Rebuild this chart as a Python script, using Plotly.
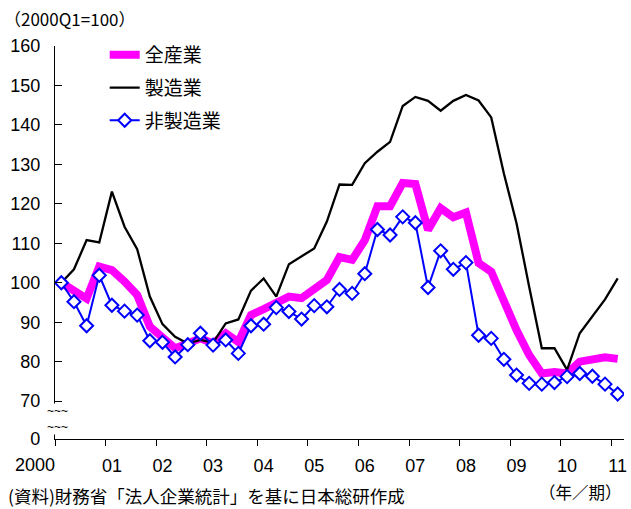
import plotly.graph_objects as go

# Quarterly 2000Q1 .. 2011Q1 (45 quarters), index 2000Q1 = 100
quarters = [f"{y}Q{q}" for y in range(2000, 2012) for q in range(1, 5)][:45]

all_industries = [100.0, 97.7, 96.0, 104.1, 103.2, 100.3, 96.9, 88.9, 86.3, 83.4, 84.6, 85.9,
                  84.6, 87.2, 85.0, 91.8, 93.3, 94.8, 96.5, 96.1, 98.6, 100.7, 106.5, 105.8,
                  110.8, 119.4, 119.4, 125.3, 125.0, 113.4, 118.9, 116.6, 117.8, 105.0, 102.8,
                  94.8, 88.0, 81.7, 77.0, 77.4, 77.0, 80.0, 80.8, 81.1, 80.7]
manufacturing = [100.0, 103.4, 110.8, 110.2, 123.1, 114.2, 108.5, 96.5, 89.5, 86.3, 84.6, 85.5,
                 84.8, 89.7, 90.7, 98.0, 101.1, 96.5, 104.7, 106.6, 108.7, 115.5, 124.9, 124.8,
                 130.3, 133.2, 135.7, 144.8, 147.1, 146.1, 143.6, 146.1, 147.6, 146.2, 141.9,
                 127.7, 115.1, 99.0, 83.4, 83.4, 77.9, 87.2, 91.4, 95.8, 101.1]
non_manufacturing = [100.0, 95.2, 89.1, 101.9, 94.3, 92.8, 91.8, 85.3, 84.9, 81.2, 84.3, 87.2,
                     84.2, 85.5, 82.1, 89.1, 89.5, 93.7, 92.7, 90.8, 94.2, 93.9, 98.3, 97.3,
                     102.3, 113.5, 112.1, 116.7, 115.2, 98.8, 108.1, 103.4, 105.1, 86.7, 85.9,
                     80.6, 76.6, 74.5, 74.3, 74.7, 76.2, 77.0, 76.3, 74.3, 71.8]

series_names = ["全産業", "製造業", "非製造業"]
year_labels = ["2000", "01", "02", "03", "04", "05", "06", "07", "08", "09", "10", "11"]
y_tick_values = [70, 80, 90, 100, 110, 120, 130, 140, 150, 160]
y_bottom = 60.4  # broken axis: bottom of plot shown as "0"

x = list(range(len(quarters)))
JP = "Noto Sans CJK JP"
NUM = "Liberation Sans"

fig = go.Figure()
fig.add_trace(go.Scatter(x=x, y=all_industries, name=series_names[0], mode="lines",
                         line=dict(color="#FF00FF", width=8), legendgroup="a"))
fig.add_trace(go.Scatter(x=x, y=manufacturing, name=series_names[1], mode="lines",
                         line=dict(color="#000000", width=2.3), legendgroup="b"))
fig.add_trace(go.Scatter(x=x, y=non_manufacturing, name=series_names[2], mode="lines+markers",
                         line=dict(color="#0000FF", width=2),
                         marker=dict(symbol="diamond", size=10, color="white",
                                     line=dict(color="#0000FF", width=2)),
                         legendgroup="c"))

L, R, T, B = 55, 3.6, 46, 70
W, H = 631, 509
pw, ph = W - L - R, H - T - B

def px_x(p):
    return (p - L) / pw

def px_y(p):
    return (H - B - p) / ph

fig.update_layout(
    width=W, height=H,
    margin=dict(l=L, r=R, t=T, b=B, pad=0),
    paper_bgcolor="white", plot_bgcolor="white",
    showlegend=True,
    legend=dict(x=px_x(105), y=px_y(36), xanchor="left", yanchor="top",
                font=dict(family=JP, size=19, color="black"),
                tracegroupgap=5, bgcolor="rgba(0,0,0,0)"),
    xaxis=dict(range=[-0.5, len(quarters) - 0.5], showgrid=False, zeroline=False,
               showline=True, linecolor="black", linewidth=1.3,
               tickvals=[4 * k for k in range(1, len(year_labels))],
               ticktext=year_labels[1:], ticks="",
               tickfont=dict(family=NUM, size=18, color="black"),
               ticklabelstandoff=10,
               minor=dict(tickvals=[4 * k - 0.5 for k in range(len(year_labels))],
                          ticks="outside", ticklen=6, tickcolor="black", tickwidth=1.3)),
    yaxis=dict(range=[y_bottom, 160], showgrid=False, zeroline=False,
               showline=True, linecolor="black", linewidth=1.3,
               tickvals=[y_bottom] + y_tick_values,
               ticktext=["0"] + [str(v) for v in y_tick_values],
               ticks="inside", ticklen=7, tickcolor="black", tickwidth=1.3,
               tickfont=dict(family=NUM, size=18, color="black"),
               ticklabelstandoff=10),
)

annos = [
    dict(text=year_labels[0], x=px_x(35), y=px_y(465), xanchor="center", yanchor="middle",
         font=dict(family=NUM, size=18, color="black")),
    dict(text="（2000Q1=100）", x=px_x(2), y=px_y(18), xanchor="left", yanchor="middle",
         font=dict(family=JP, size=17, color="black")),
    dict(text="(資料)財務省「法人企業統計」を基に日本総研作成", x=px_x(6), y=px_y(495),
         xanchor="left", yanchor="middle", font=dict(family=JP, size=17.5, color="black")),
    dict(text="（年／期）", x=px_x(627), y=px_y(492), xanchor="right", yanchor="middle",
         font=dict(family=JP, size=16.5, color="black")),
    dict(text="~~~<br>~~~", x=px_x(58), y=px_y(419), xanchor="center", yanchor="middle",
         font=dict(family=NUM, size=12, color="black"), bgcolor="white", borderpad=0),
]
for a in annos:
    a.update(xref="paper", yref="paper", showarrow=False)
    fig.add_annotation(**a)

fig.write_html("out.html", config={"displayModeBar": False},
               post_script="document.body.style.margin='0';document.body.style.padding='0';")
